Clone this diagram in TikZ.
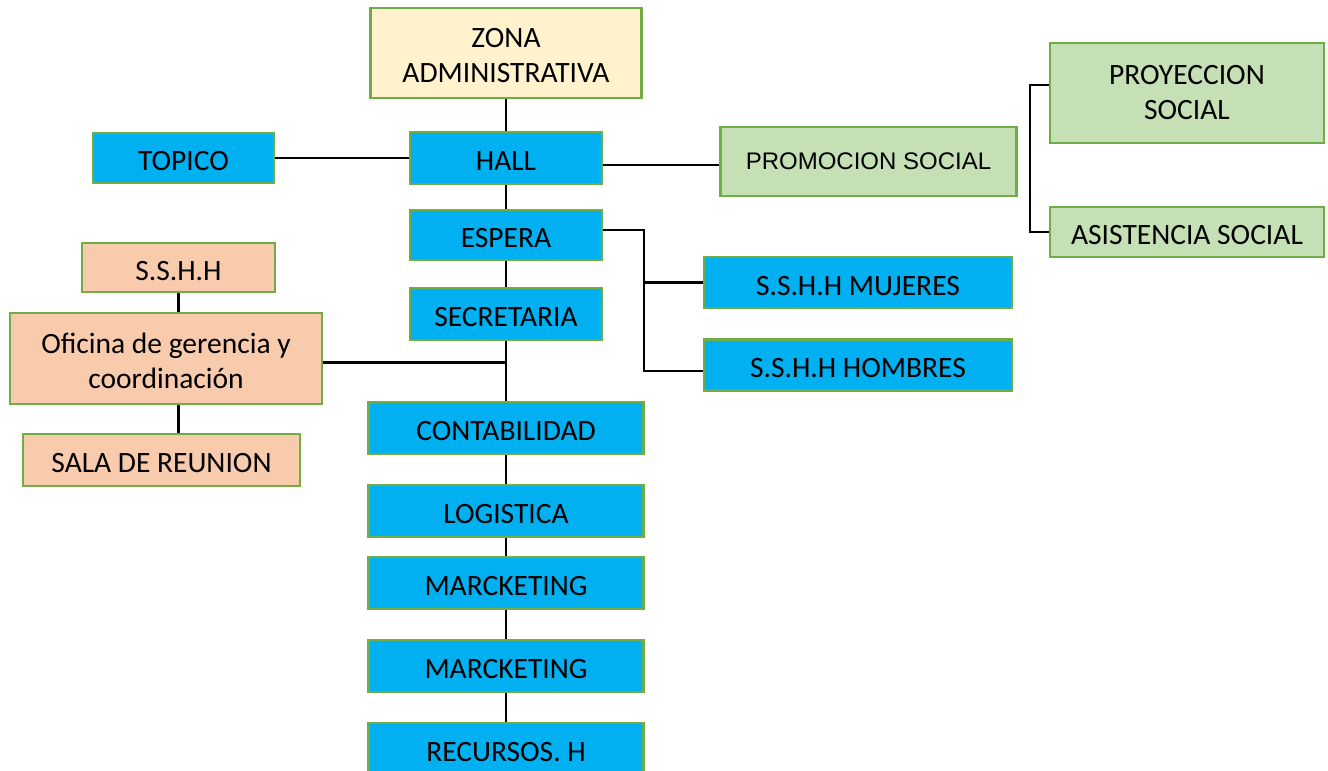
\documentclass[tikz,border=0pt]{standalone}
\usepackage{fontspec}
\setmainfont{Carlito}
\newfontfamily\arialfont{Liberation Sans}
\usepackage{tikz}
\usetikzlibrary{positioning}
\definecolor{SkyBlue}{HTML}{00B0F0}
\definecolor{LeafGreen}{HTML}{70AD47}
\definecolor{LightCream}{HTML}{FFF2CC}
\definecolor{LightPeach}{HTML}{F8CBAD}
\definecolor{LightGreen}{HTML}{C5E0B4}

\begin{document}
\begin{tikzpicture}[x=1pt, y=-1pt,
    box/.style={draw=LeafGreen, line width=2.8pt, inner sep=0pt, align=center,
      font=\fontsize{29.5}{35}\selectfont},
    onerow/.style={text height=25pt, text depth=0pt},
    bluebox/.style={box, onerow, fill=SkyBlue},
    link/.style={draw=black, line width=2.1pt}]
    \useasboundingbox (0,0) rectangle (1328,771);

    % Main column
    \node[box, fill=LightCream, minimum width=271pt, minimum height=90pt] (zona) at (506,53) {\rule{0pt}{25pt}ZONA\\ADMINISTRATIVA};
    \node[bluebox, minimum width=192pt, minimum height=52pt] (hall) at (506,158) {HALL};
    \node[bluebox, minimum width=192pt, minimum height=50pt] (espera) at (506,235) {ESPERA};
    \node[bluebox, minimum width=192pt, minimum height=52pt] (secre) at (506,314) {SECRETARIA};
    \node[bluebox, minimum width=275pt, minimum height=52pt] (conta) at (506,428) {CONTABILIDAD};
    \node[bluebox, minimum width=275pt, minimum height=52pt] (logis) at (506,511) {LOGISTICA};
    \node[bluebox, minimum width=275pt, minimum height=52pt] (marca) at (506,583) {MARCKETING};
    \node[bluebox, minimum width=275pt, minimum height=52pt] (marcb) at (506,666) {MARCKETING};
    \node[bluebox, minimum width=275pt, minimum height=52pt] (recur) at (506,749) {RECURSOS. H};

    % Left side
    \node[bluebox, minimum width=181pt, minimum height=50pt] (topico) at (183.5,158) {TOPICO};
    \node[box, onerow, fill=LightPeach, minimum width=193pt, minimum height=49pt] (sshh) at (178.5,267.5) {S.S.H.H};
    \node[box, fill=LightPeach, minimum width=312pt, minimum height=91pt] (oficina) at (166,358.5) {\rule{0pt}{26pt}Oficina de gerencia y\\coordinación};
    \node[box, onerow, fill=LightPeach, minimum width=277pt, minimum height=52pt] (sala) at (161.5,460) {SALA DE REUNION};

    % Right side
    \node[box, fill=LightGreen, minimum width=296pt, minimum height=69pt, font=\arialfont\fontsize{24}{30}\selectfont] (promo) at (868.5,161.5) {PROMOCION SOCIAL};
    \node[box, fill=LightGreen, minimum width=274pt, minimum height=100pt] (proy) at (1187,93) {PROYECCION\\SOCIAL};
    \node[box, onerow, fill=LightGreen, minimum width=274pt, minimum height=50pt] (asist) at (1187,232) {ASISTENCIA SOCIAL};
    \node[bluebox, minimum width=308pt, minimum height=51pt] (mujeres) at (858,282.5) {S.S.H.H MUJERES};
    \node[bluebox, minimum width=308pt, minimum height=51pt] (hombres) at (858,365) {S.S.H.H HOMBRES};

    % Connectors
    \path[link] (zona) -- (hall) -- (espera) -- (secre) -- (conta) -- (logis) -- (marca) -- (marcb) -- (recur);
    \path[link] (topico) -- (hall);
    \path[link] ([yshift=-7pt]hall.east) -- ([yshift=-7pt]hall.east -| promo.west);
    \path[link] ([yshift=8pt]proy.west) -- ++(-19,0) |- (asist.west);
    \path[link] ([yshift=5pt]espera.east) -- ++(41,0) |- ([yshift=-6pt]hombres.west);
    \path[link] (mujeres.west) -- ++(-60,0);
    \path[link] ([yshift=-4pt]oficina.east) -- ([yshift=-4pt]oficina.east -| secre.south);
    \path[link] (sshh.south) -- (sshh.south |- oficina.north);
    \path[link] (oficina.south -| sshh.south) -- (sala.north -| sshh.south);
\end{tikzpicture}
\end{document}
